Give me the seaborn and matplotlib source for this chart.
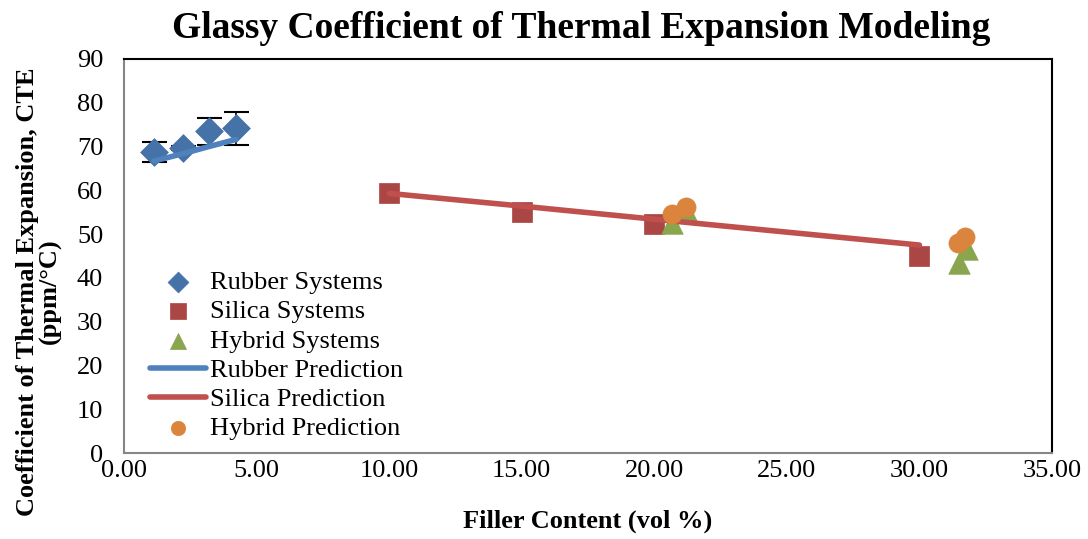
import matplotlib
matplotlib.use("Agg")
import matplotlib.pyplot as plt
import seaborn as sns
import pandas as pd
from matplotlib.ticker import FormatStrFormatter, MultipleLocator

# ---- data ----
rubber_x = [1.13, 2.24, 3.20, 4.21]
rubber_y = [68.8, 69.7, 73.5, 74.2]
rubber_err = [2.3, 0.5, 3.1, 3.8]
rubber_pred_x = [1.13, 2.24, 3.20, 4.21]
rubber_pred_y = [66.7, 68.4, 70.0, 71.6]

silica_x = [10, 15, 20, 30]
silica_y = [59.3, 55.1, 52.3, 45.0]
silica_pred_x = [10, 15, 20, 30]
silica_pred_y = [59.3, 56.4, 53.4, 47.5]

hybrid_x = [20.65, 21.2, 31.5, 31.8]
hybrid_y = [52.5, 55.5, 43.5, 46.5]
hybrid_pred_x = [20.67, 21.2, 31.45, 31.7]
hybrid_pred_y = [54.7, 56.1, 47.9, 49.4]

title = "Glassy Coefficient of Thermal Expansion Modeling"
xlabel = "Filler Content (vol %)"
ylabel = "Coefficient of Thermal Expansion, CTE\n(ppm/\u00b0C)"

sns.set_theme(style="white")
plt.rcParams['font.family'] = ['Liberation Serif', 'DejaVu Serif']
plt.rcParams['mathtext.fontset'] = 'stix'
plt.rcParams['text.color'] = 'black'
plt.rcParams['axes.labelcolor'] = 'black'
plt.rcParams['xtick.color'] = 'black'
plt.rcParams['ytick.color'] = 'black'

fig = plt.figure(figsize=(10.88, 5.39), dpi=100)
ax = fig.add_axes([124/1088, 1 - 453/539, (1052-124)/1088, (453-59)/539])

c_rub_m, c_rub_l = "#4572A7", "#4F81BD"
c_sil_m, c_sil_l = "#AA4643", "#C0504D"
c_hyb_m, c_hyb_p = "#89A54E", "#DB843D"

ax.errorbar(rubber_x, rubber_y, yerr=rubber_err, fmt='none', ecolor='black',
            elinewidth=1.2, capsize=9, capthick=1.5, zorder=2)

sns.scatterplot(x=rubber_x, y=rubber_y, ax=ax, marker='D', s=200, color=c_rub_m,
                edgecolor=c_rub_m, linewidth=0.5, label="Rubber Systems", zorder=3)
sns.scatterplot(x=silica_x, y=silica_y, ax=ax, marker='s', s=210, color=c_sil_m,
                edgecolor=c_sil_m, linewidth=0.5, label="Silica Systems", zorder=3)
sns.scatterplot(x=hybrid_x, y=hybrid_y, ax=ax, marker='^', s=240, color=c_hyb_m,
                edgecolor=c_hyb_m, linewidth=0.5, label="Hybrid Systems", zorder=3)
sns.lineplot(x=rubber_pred_x, y=rubber_pred_y, ax=ax, color=c_rub_l, lw=4,
             label="Rubber Prediction", zorder=3.5)
sns.lineplot(x=silica_pred_x, y=silica_pred_y, ax=ax, color=c_sil_l, lw=4,
             label="Silica Prediction", zorder=3.5)
sns.scatterplot(x=hybrid_pred_x, y=hybrid_pred_y, ax=ax, marker='o', s=190, color=c_hyb_p,
                edgecolor=c_hyb_p, linewidth=0.5, label="Hybrid Prediction", zorder=4)

ax.set_xlim(0, 35)
ax.set_ylim(0, 90)
ax.xaxis.set_major_locator(MultipleLocator(5))
ax.yaxis.set_major_locator(MultipleLocator(10))
ax.xaxis.set_major_formatter(FormatStrFormatter('%.2f'))

for s in ['left', 'bottom']:
    ax.spines[s].set_color('#868686')
    ax.spines[s].set_linewidth(1.5)
for s in ['top', 'right']:
    ax.spines[s].set_color('black')
    ax.spines[s].set_linewidth(1.5)

ax.tick_params(axis='both', direction='in', length=6, width=1.2, color='#868686',
               labelsize=19, labelcolor='black')
ax.tick_params(axis='y', pad=15)
ax.tick_params(axis='x', pad=5)

ax.set_title(title, fontsize=27, fontweight='bold', pad=15, x=0.493, color='black')
ax.set_xlabel(xlabel, fontsize=19, fontweight='bold', labelpad=20, color='black')
ax.set_ylabel(ylabel, fontsize=19, fontweight='bold', linespacing=0.95, color='black')
ax.yaxis.set_label_coords(-0.067, 0.41)

handles, labels = ax.get_legend_handles_labels()
order = ["Rubber Systems", "Silica Systems", "Hybrid Systems",
         "Rubber Prediction", "Silica Prediction", "Hybrid Prediction"]
hmap = dict(zip(labels, handles))
leg = ax.legend([hmap[l] for l in order], order, loc='upper left',
                bbox_to_anchor=(0.017, 0.49), frameon=False, fontsize=19,
                handlelength=2.1, handletextpad=0.15, labelspacing=0.22,
                borderaxespad=0, markerscale=0.75, labelcolor='black')

fig.savefig("out.png", dpi=100)
